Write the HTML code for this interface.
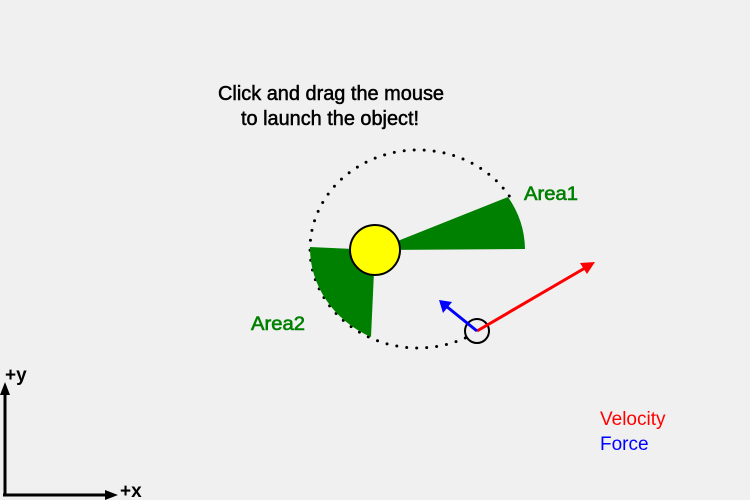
<!DOCTYPE html>
<html><head><style>html,body{margin:0;padding:0;background:#f0f0f0;}</style></head>
<body>
<svg width="750" height="500" viewBox="0 0 750 500" xmlns="http://www.w3.org/2000/svg" style="display:block;font-family:'Liberation Sans',Arial,sans-serif">
<rect width="750" height="500" fill="#f0f0f0"/>
<g fill="#000" stroke="#000" stroke-width="0.5" font-size="20" text-anchor="middle">
<text x="331" y="100" textLength="226" lengthAdjust="spacingAndGlyphs">Click and drag the mouse</text>
<text x="330" y="125" textLength="178" lengthAdjust="spacingAndGlyphs">to launch the object!</text>
</g>
<path d="M465.3,338 A108,99 0 1 1 509.6,196.5" fill="none" stroke="#000" stroke-width="3" stroke-dasharray="0 10" stroke-linecap="round"/>
<path d="M375,250 L508,197 A108,99 0 0 1 525,249 Z" fill="#008000"/>
<path d="M375,250 L310,247 A108,99 0 0 0 371,337 Z" fill="#008000"/>
<circle cx="375" cy="250" r="25" fill="#ffff00" stroke="#000" stroke-width="2"/>
<circle cx="477" cy="331" r="12" fill="none" stroke="#000" stroke-width="2"/>
<line x1="477" y1="331" x2="585" y2="268" stroke="#f00" stroke-width="3"/>
<polygon points="595,262 580,263 587,274" fill="#f00"/>
<line x1="477" y1="331" x2="446" y2="306" stroke="#00f" stroke-width="3"/>
<polygon points="439,300 443,313 452,302" fill="#00f"/>
<g fill="#008000" stroke="#008000" stroke-width="0.6" font-size="19">
<text x="524" y="200" textLength="54" lengthAdjust="spacingAndGlyphs">Area1</text>
<text x="251" y="330" textLength="54" lengthAdjust="spacingAndGlyphs">Area2</text>
</g>
<text x="600" y="425" font-size="19" fill="#f00">Velocity</text>
<text x="600" y="450" font-size="19" fill="#00f">Force</text>
<line x1="5" y1="496" x2="5" y2="392" stroke="#000" stroke-width="3"/>
<polygon points="5,382 0,395 10,395" fill="#000"/>
<line x1="3" y1="495" x2="108" y2="495" stroke="#000" stroke-width="3"/>
<polygon points="118,495 105,490 105,500" fill="#000"/>
<g font-size="19" font-weight="bold" fill="#000">
<text x="5" y="381">+y</text>
<text x="120" y="497">+x</text>
</g>
</svg>
</body></html>
